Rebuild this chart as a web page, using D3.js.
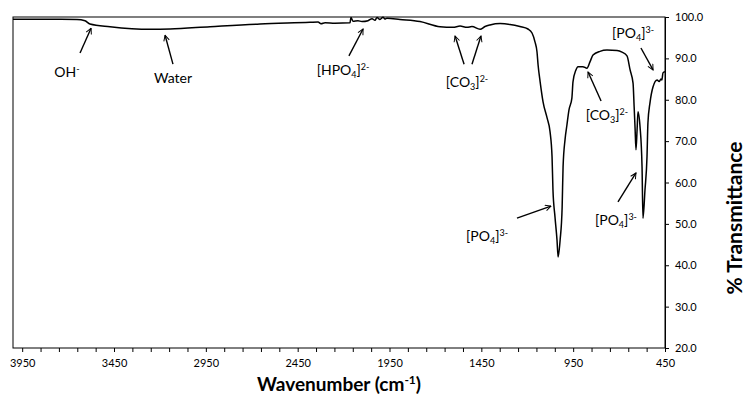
<!DOCTYPE html>
<html><head><meta charset="utf-8">
<script src="https://cdn.jsdelivr.net/npm/d3@7"></script>
<style>body{margin:0;background:#fff}svg{display:block}text{font-family:Lato,"Open Sans",sans-serif}</style>
</head><body><svg id="c" width="747" height="399"></svg>
<script>
// Spectrum data: wavenumber (cm-1) and % transmittance
const wavenumbers = [4000,3853,3652,3608,3581,3472,3254,3145,2927,2655,2383,2339,2323,2301,2247,2165,2160,2149,2122,2100,2067,2045,2029,2018,2002,1985,1975,1964,1893,1784,1675,1604,1566,1528,1501,1457,1430,1403,1348,1294,1240,1196,1174,1158,1147,1141,1130,1114,1092,1076,1065,1060,1049,1038,1032,1021,1010,1005,994,984,973,957,951,935,924,897,875,858,842,804,766,711,684,657,640,624,618,613,608,602,597,586,575,570,559,548,543,532,515,493,482,472,467,461,450];
const transmittance = [99.45,99.45,99.4,99.1,98.3,97.66,97.03,97.1,97.66,98.31,98.72,98.8,98.35,98.6,98.5,98.62,99.9,99.0,99.1,98.9,99.1,99.6,99.2,99.9,99.4,99.95,99.5,99.7,99.4,98.9,97.66,97.5,97.82,97.5,97.7,97.03,97.7,98.07,98.4,98.2,97.7,97.1,96.13,94.0,91.6,88.4,84.4,79.5,75.6,72.3,66.2,58.2,51.7,46.1,42.0,46.1,54.1,63.75,70.5,73.9,77.5,80.4,84.3,87.2,88.0,88.0,87.6,89.2,90.8,91.7,92.0,91.9,91.5,90.6,87.2,84.0,78.3,73.2,67.9,72.7,77.1,73.5,63.8,51.35,58.2,66.2,74.4,79.2,83.15,84.8,84.4,85.0,84.8,86.5,86.8];
const xTickValues = [3950,3450,2950,2450,1950,1450,950,450];
const yTickValues = [20,30,40,50,60,70,80,90,100];
// Annotations: label parts [text, kind] ; kind: n normal, sub, sup
const annotLabels = [
  [["OH","n"],["-","sup"]],
  [["Water","n"]],
  [["[HPO","n"],["4","sub"],["]","n"],["2-","sup"]],
  [["[CO","n"],["3","sub"],["]","n"],["2-","sup"]],
  [["[CO","n"],["3","sub"],["]","n"],["2-","sup"]],
  [["[PO","n"],["4","sub"],["]","n"],["3-","sup"]],
  [["[PO","n"],["4","sub"],["]","n"],["3-","sup"]],
  [["[PO","n"],["4","sub"],["]","n"],["3-","sup"]]
];
// label anchor (centre, baseline) in data units: [wavenumber, transmittance]
const annotPos = [[3706,85.6],[3129,84.0],[2203,86.0],[1528,83.1],[766,75.1],[624,95.0],[1419,45.8],[717,49.7]];
// arrows in data units: [fromW, fromT, toW, toT]
const arrows = [
  [3635,91.3,3575,97.3],
  [3129,88.6,3172,95.6],
  [2171,90.6,2094,97.1],
  [1544,88.6,1593,95.4],
  [1501,88.6,1452,95.4],
  [798,79.7,869,86.7],
  [581,92.5,515,87.2],
  [1256,51.4,1071,54.3],
  [706,55.3,608,62.3]
];

const svg = d3.select("#c");
const L = 13, R = 665, T = 17, B = 348;
const x = d3.scaleLinear().domain([4000,450]).range([L,R]);
const y = d3.scaleLinear().domain([20,100]).range([B,T]);

// frame
svg.append("rect").attr("x",L).attr("y",T).attr("width",R-L).attr("height",B-T)
  .attr("fill","none").attr("stroke","#000").attr("stroke-width",1);

// x axis minor ticks every 100
const minor = d3.range(3950,449,-100);
const xAxis = d3.axisBottom(x).tickValues(minor).tickSize(4)
  .tickFormat(d => xTickValues.includes(d) ? d : "");
const gx = svg.append("g").attr("transform",`translate(0,${B})`).call(xAxis);
gx.select(".domain").remove();
gx.selectAll(".tick line").attr("stroke","#000");
gx.selectAll(".tick text").attr("font-size",11).attr("fill","#000").attr("dy","1.1em");

const yAxis = d3.axisRight(y).tickValues(yTickValues).tickSize(4).tickPadding(6).tickFormat(d3.format(".1f"));
const gy = svg.append("g").attr("transform",`translate(${R},0)`).call(yAxis);
gy.select(".domain").attr("stroke","#000");
gy.selectAll(".tick line").attr("stroke","#000");
gy.selectAll(".tick text").attr("font-size",11).attr("fill","#000");

// titles
const xt = svg.append("text").attr("x",339).attr("y",391).attr("text-anchor","middle")
  .attr("font-size",19).attr("font-weight","bold");
xt.append("tspan").text("Wavenumber (cm");
xt.append("tspan").attr("font-size",12).attr("dy",-7).text("-1");
xt.append("tspan").attr("dy",7).text(")");
svg.append("text").attr("transform","translate(742,218) rotate(-90)").attr("text-anchor","middle")
  .attr("font-size",21).attr("font-weight","bold").text("% Transmittance");

// spectrum
const data = wavenumbers.map((w,i)=>[w,transmittance[i]]);
svg.append("path").datum(data)
  .attr("d", d3.line().x(d=>x(d[0])).y(d=>y(d[1])).curve(d3.curveMonotoneX))
  .attr("fill","none").attr("stroke","#000").attr("stroke-width",1.5);

// arrow marker
svg.append("defs").append("marker").attr("id","ah").attr("viewBox","0 0 10 10")
  .attr("refX",9).attr("refY",5).attr("markerWidth",7).attr("markerHeight",7)
  .attr("markerUnits","userSpaceOnUse").attr("orient","auto")
  .append("path").attr("d","M1,1 L9,5 L1,9").attr("fill","none").attr("stroke","#000").attr("stroke-width",1.4);

arrows.forEach(a=>{
  svg.append("line").attr("x1",x(a[0])).attr("y1",y(a[1])).attr("x2",x(a[2])).attr("y2",y(a[3]))
    .attr("stroke","#000").attr("stroke-width",1.4).attr("marker-end","url(#ah)");
});

annotLabels.forEach((parts,i)=>{
  const t = svg.append("text").attr("x",x(annotPos[i][0])).attr("y",y(annotPos[i][1]))
    .attr("text-anchor","middle").attr("font-size",14);
  let shift = 0;
  parts.forEach(p=>{
    const target = p[1]==="sup" ? -5 : p[1]==="sub" ? 3 : 0;
    t.append("tspan").attr("dy",target-shift).attr("font-size",p[1]==="n"?14:9).text(p[0]);
    shift = target;
  });
});
</script></body></html>
